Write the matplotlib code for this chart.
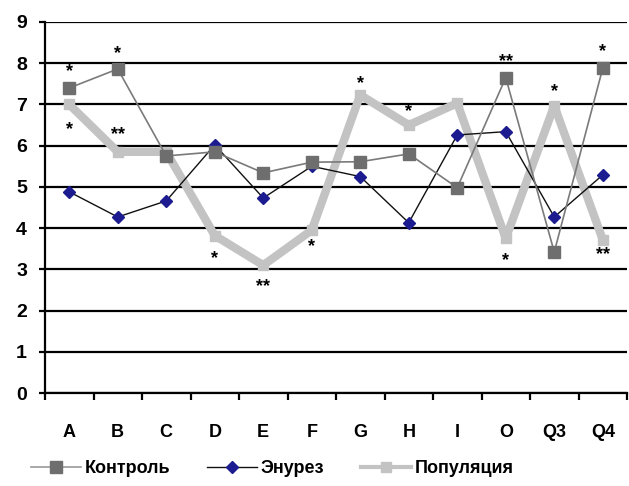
import matplotlib
matplotlib.use("Agg")
import matplotlib.pyplot as plt
import numpy as np

# --- dados ---
categorias = ["A", "B", "C", "D", "E", "F", "G", "H", "I", "O", "Q3", "Q4"]
kontrol = [7.40, 7.86, 5.75, 5.85, 5.34, 5.60, 5.61, 5.80, 4.98, 7.65, 3.42, 7.88]
enurez = [4.88, 4.27, 4.66, 6.02, 4.73, 5.50, 5.25, 4.13, 6.26, 6.34, 4.27, 5.29]
populyatsiya = [7.00, 5.85, 5.85, 3.82, 3.10, 3.95, 7.23, 6.50, 7.03, 3.75, 6.97, 3.72]

# significance marks: (category index, value, text)
marcas_cat = [0, 0, 1, 1, 3, 4, 5, 6, 7, 9, 9, 10, 11, 11]
marcas_val = [7.9, 6.5, 8.33, 6.38, 3.35, 2.67, 3.64, 7.6, 6.92, 8.13, 3.3, 7.4, 8.37, 3.45]
marcas_txt = ["*", "*", "*", "**", "*", "**", "*", "*", "*", "**", "*", "*", "*", "**"]

plt.rcParams.update({
    "font.family": "Liberation Sans",
    "font.weight": "bold",
    "font.size": 12,
})

fig = plt.figure(figsize=(6.29, 4.86), dpi=100)
ax = fig.add_axes([45 / 629, 1 - 393 / 486, 582 / 629, 371 / 486])

x = np.arange(len(categorias))

ax.plot(x, populyatsiya, color="#c3c3c3", linewidth=6, marker="s", markersize=7,
        markerfacecolor="#c3c3c3", markeredgecolor="#c3c3c3", zorder=3,
        label="Популяция")
ax.plot(x, enurez, color="#111111", linewidth=1.0, marker="D", markersize=6,
        markerfacecolor="#1c1c90", markeredgecolor="#1c1c90", zorder=4,
        label="Энурез")
ax.plot(x, kontrol, color="#7a7a7a", linewidth=1.2, marker="s", markersize=9,
        markerfacecolor="#6e6e6e", markeredgecolor="#6e6e6e", zorder=5,
        label="Контроль")

for ci, v, t in zip(marcas_cat, marcas_val, marcas_txt):
    ax.text(ci, v - 0.1, t, ha="center", va="center", fontsize=13, fontweight="bold",
            color="black", zorder=6)

ax.set_xlim(-0.5, len(categorias) - 0.5)
ax.set_ylim(0, 9)
ax.set_yticks(range(0, 10))
ax.set_xticks(x)
ax.set_xticklabels(categorias)
ax.set_xticks(np.arange(-0.5, len(categorias) + 0.5, 1), minor=True)

ax.grid(axis="y", color="black", linewidth=1.6)
ax.set_axisbelow(True)
for s in ["top", "right"]:
    ax.spines[s].set_visible(False)
ax.spines["left"].set_linewidth(1.6)
ax.spines["bottom"].set_linewidth(1.6)

ax.tick_params(axis="x", which="major", length=0, pad=22, labelsize=13)
ax.tick_params(axis="x", which="minor", length=5, width=1.6, direction="out")
ax.tick_params(axis="y", length=4, width=1.6, pad=9, labelsize=14)

handles, labels = ax.get_legend_handles_labels()
order = [2, 1, 0]
leg = fig.legend([handles[i] for i in order], [labels[i] for i in order],
                 loc="center", bbox_to_anchor=(0.433, 0.036), ncol=3,
                 frameon=False, handlelength=2.8, handletextpad=0.2,
                 columnspacing=2.0, fontsize=13)
# thinner handles in legend
leg.get_lines()[2].set_linewidth(3)
leg.get_lines()[0].set_color("#999999")

fig.savefig("out.png", dpi=100)
